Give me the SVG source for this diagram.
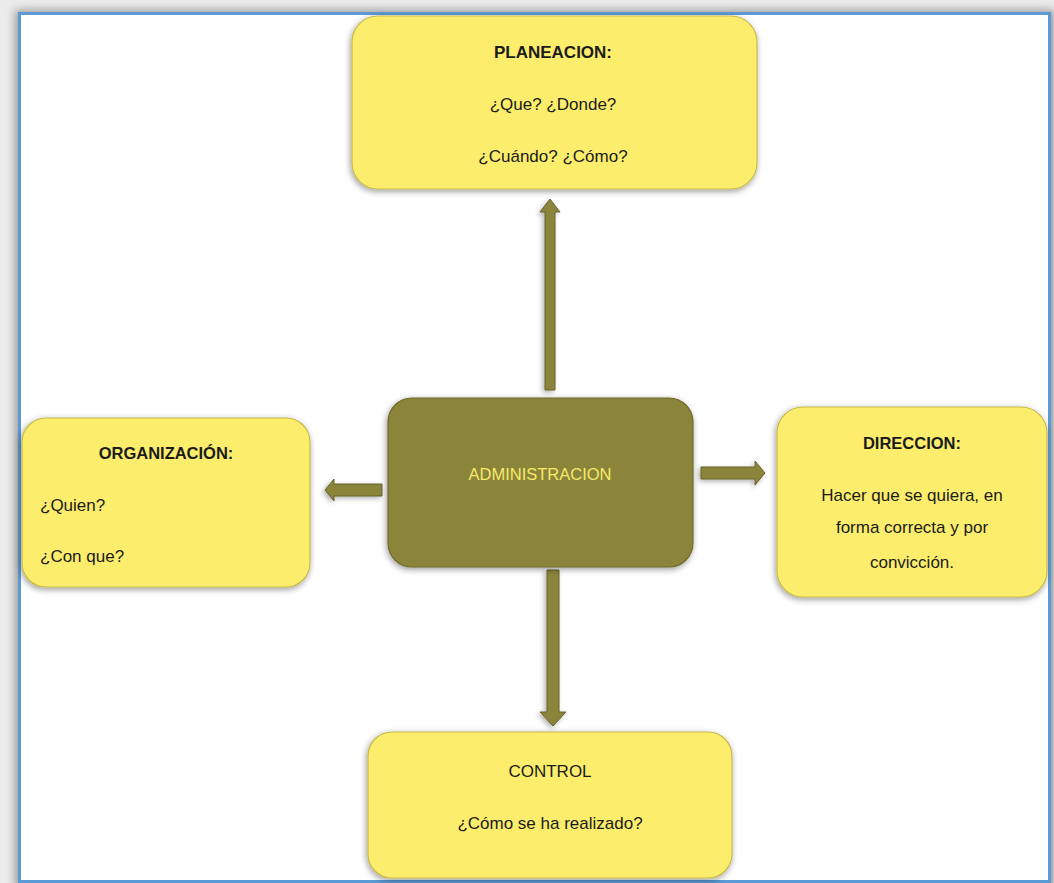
<svg xmlns="http://www.w3.org/2000/svg" width="1054" height="883" viewBox="0 0 1054 883">
  <style>
    .box { fill: #fcee6c; stroke: #c6ba4c; stroke-width: 1.2; filter: url(#shadow); }
    .core { fill: #8b843a; stroke: #6f6a2a; stroke-width: 1.2; filter: url(#shadow); }
    .t { font-family: "Liberation Sans", Arial, sans-serif; font-size: 17px; fill: #1b1b1b; }
    .b { font-weight: bold; }
    .c { text-anchor: middle; }
    .arrow { fill: #8b843a; stroke: #66622a; stroke-width: 1; filter: url(#ashadow); }
  </style>
  <defs>
    <filter id="shadow" x="-10%" y="-15%" width="120%" height="135%">
      <feDropShadow dx="-1" dy="2" stdDeviation="3" flood-color="#000" flood-opacity="0.4"/>
    </filter>
    <filter id="ashadow" x="-50%" y="-50%" width="200%" height="200%">
      <feDropShadow dx="-2" dy="2" stdDeviation="2.5" flood-color="#000" flood-opacity="0.3"/>
    </filter>
    <filter id="frameblur" x="-5%" y="-5%" width="110%" height="110%">
      <feGaussianBlur stdDeviation="5"/>
    </filter>
  </defs>

  <rect x="0" y="0" width="1054" height="883" fill="#ececec"/>
  <rect x="15" y="10" width="1040" height="880" fill="#9a9a9a" filter="url(#frameblur)"/>
  <rect x="19.5" y="13.5" width="1030" height="868" fill="#ffffff" stroke="#5b9bd5" stroke-width="3"/>

  <g id="connectors">
    <path class="arrow" d="M545,390 L545,212 L540,212 L550,199 L560,212 L555,212 L555,390 Z"/>
    <path class="arrow" d="M382,484 L334,484 L334,479 L325,490 L334,501 L334,496 L382,496 Z"/>
    <path class="arrow" d="M701,467 L755,467 L755,461 L765,473 L755,485 L755,479 L701,479 Z"/>
    <path class="arrow" d="M547,570 L547,712 L540,712 L553,726 L566,712 L559,712 L559,570 Z"/>
  </g>

  <g id="node-planeacion">
    <rect class="box" x="352" y="16" width="405" height="173" rx="26"/>
    <text class="t b c" x="553" y="58">PLANEACION:</text>
    <text class="t c" x="553" y="110">¿Que? ¿Donde?</text>
    <text class="t c" x="553" y="162">¿Cuándo? ¿Cómo?</text>
  </g>

  <g id="node-administracion">
    <rect class="core" x="388" y="398" width="305" height="169" rx="24"/>
    <text class="t c" x="540" y="480" style="fill:#f6ea6a;font-size:16.5px">ADMINISTRACION</text>
  </g>

  <g id="node-organizacion">
    <rect class="box" x="22" y="418" width="288" height="169" rx="24"/>
    <text class="t b c" x="166" y="459" style="font-size:16.5px">ORGANIZACIÓN:</text>
    <text class="t" x="40" y="511">¿Quien?</text>
    <text class="t" x="40" y="562">¿Con que?</text>
  </g>

  <g id="node-direccion">
    <rect class="box" x="777" y="407" width="270" height="190" rx="26"/>
    <text class="t b c" x="912" y="449" style="font-size:16.5px">DIRECCION:</text>
    <text class="t c" x="912" y="501">Hacer que se quiera, en</text>
    <text class="t c" x="912" y="533">forma correcta y por</text>
    <text class="t c" x="912" y="568">convicción.</text>
  </g>

  <g id="node-control">
    <rect class="box" x="368" y="732" width="364" height="146" rx="24"/>
    <text class="t c" x="550" y="777">CONTROL</text>
    <text class="t c" x="550" y="829">¿Cómo se ha realizado?</text>
  </g>
</svg>
